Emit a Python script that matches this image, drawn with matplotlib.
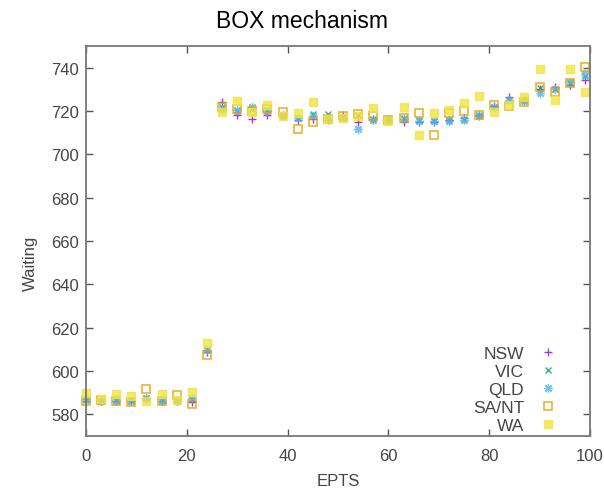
import matplotlib
matplotlib.use("Agg")
import matplotlib.pyplot as plt

plt.rcParams['font.family'] = ['Liberation Sans', 'DejaVu Sans']

epts = list(range(0, 100, 3))

nsw = [586, 586, 586, 586, 587, 586, 586, 585.5, 609, 724, 718, 716.5, 718, 718,
       716, 716.5, 716, 718, 715, 716.5, 716, 715, 715, 715, 716, 717, 718, 722.5,
       726.5, 725, 730, 731, 732, 734.5]
vic = [586.5, 586, 586.5, 586, 587.5, 586.5, 586, 587, 610, 722, 720, 721, 720.5, 718,
       717, 718.5, 718.5, 717, 718, 716.5, 716, 717, 716, 715.5, 716, 716.5, 718, 722,
       725, 725, 730.5, 730, 733, 736]
qld = [587, 586, 586, 586, 587.5, 586, 586, 587.5, 609.5, 721, 720.5, 722, 720, 717.5,
       717, 717.5, 717, 717, 711.5, 716, 716, 716.5, 715.5, 715.5, 715.5, 716, 717.5, 722,
       725, 724.5, 728.5, 730, 733.5, 737]
sant = [586, 586.5, 586, 585.5, 591.5, 586, 589, 585, 607.5, 722, 721, 720, 721, 719.5,
        711.5, 715, 716.5, 717.5, 718.5, 717.5, 716, 717, 719, 709, 719, 720, 718, 723,
        722.5, 724, 731, 729, 733, 740.5]
wa = [590, 587, 589.5, 588.5, 586, 589.5, 586.5, 590.5, 613, 719.5, 724.5, 719.5, 723, 717.5,
      719, 724, 716.5, 717, 717.5, 721.5, 715.5, 722, 709, 719, 720.5, 723.5, 727, 719.5,
      723, 726.5, 739.5, 725, 739.5, 729]

series_names = ["NSW", "VIC", "QLD", "SA/NT", "WA"]
x_ticks = [0, 20, 40, 60, 80, 100]
y_ticks = [580, 600, 620, 640, 660, 680, 700, 720, 740]

fig = plt.figure(figsize=(6.04, 4.89), dpi=100)
ax = fig.add_axes([86/604, 1-437/489, (590-86)/604, (437-47)/489])

styles = [
    dict(marker='+', color='#9400D3', linestyle='none', ms=6, mew=1.0),
    dict(marker='x', color='#009E73', linestyle='none', ms=5, mew=1.0),
    dict(marker=(8, 2, 0), color='#56B4E9', linestyle='none', ms=6, mew=1.0),
    dict(marker='s', color='#E69F00', mfc='none', linestyle='none', ms=5.5, mew=1.2),
    dict(marker='s', color='#F0E442', mec='#F0E442', linestyle='none', ms=5.5),
]
data = [nsw, vic, qld, sant, wa]
for name, vals, st in zip(series_names, data, styles):
    ax.plot(epts, vals, label=name, clip_on=False, alpha=0.8, **st)

ax.set_xlim(0, 100)
ax.set_ylim(570, 750)
ax.set_xticks(x_ticks)
ax.set_yticks(y_ticks)
ax.tick_params(direction='in', top=True, right=True, length=5, width=1,
               color='#555555', labelcolor='#444444', labelsize=12)
ax.tick_params(axis='y', pad=5)
ax.tick_params(axis='x', pad=9)
for sp in ax.spines.values():
    sp.set_color('#777777')
    sp.set_linewidth(1.3)

ax.set_xlabel('EPTS', color='#444444', fontsize=12)
ax.xaxis.set_label_coords(0.5, -(474-437)/390)
ax.set_ylabel('Waiting', color='#444444', fontsize=12)
ax.yaxis.set_label_coords(-(86-38)/504, (437-263)/390)
fig.text(0.5, 1-22/489, 'BOX mechanism', ha='center', va='center', fontsize=16.5, color='black')

leg = ax.legend(loc='lower right', bbox_to_anchor=((558-86)/504, 3/390), frameon=False,
                markerfirst=False, fontsize=12.5, handlelength=1.2, handletextpad=0.75,
                labelspacing=0.17, borderaxespad=0, borderpad=0)
for t in leg.get_texts():
    t.set_color('#444444')

fig.savefig('out.png', dpi=100)
